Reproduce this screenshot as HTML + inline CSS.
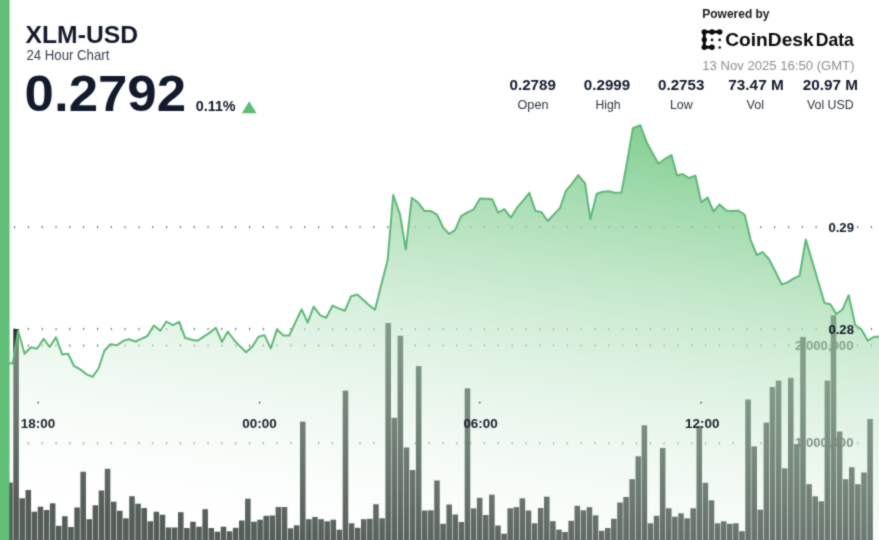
<!DOCTYPE html>
<html><head><meta charset="utf-8"><title>XLM-USD</title>
<style>
html,body{margin:0;padding:0;background:#fff;}
body{width:879px;height:540px;overflow:hidden;position:relative;font-family:"Liberation Sans",sans-serif;}
svg{position:absolute;left:-3px;top:-3px;display:block;will-change:transform;filter:url(#soft)}
text{font-family:"Liberation Sans",sans-serif;}
</style></head><body>
<svg width="885" height="546" viewBox="-3 -3 885 546">
<defs>
<filter id="soft" x="0" y="0" width="1" height="1" color-interpolation-filters="sRGB"><feConvolveMatrix order="3" kernelMatrix="1 2 1 2 12 2 1 2 1" divisor="24" edgeMode="duplicate" preserveAlpha="true"/></filter>
<linearGradient id="g" gradientUnits="userSpaceOnUse" x1="879" y1="154.5" x2="806" y2="619.2">
<stop offset="0" stop-color="#68c47a" stop-opacity="0.85"/>
<stop offset="0.5" stop-color="#bee5c6" stop-opacity="0.59"/>
<stop offset="1" stop-color="#ffffff" stop-opacity="0.2"/>
</linearGradient>
</defs>
<rect x="-3" y="-3" width="885" height="546" fill="#fff"/>
<!-- grid -->
<g fill="#747a75">
<rect x="14.0" y="226.0" width="1.1" height="2.3"/>
<rect x="27.8" y="226.0" width="1.1" height="2.3"/>
<rect x="41.7" y="226.0" width="1.1" height="2.3"/>
<rect x="55.5" y="226.0" width="1.1" height="2.3"/>
<rect x="69.3" y="226.0" width="1.1" height="2.3"/>
<rect x="83.1" y="226.0" width="1.1" height="2.3"/>
<rect x="97.0" y="226.0" width="1.1" height="2.3"/>
<rect x="110.8" y="226.0" width="1.1" height="2.3"/>
<rect x="124.6" y="226.0" width="1.1" height="2.3"/>
<rect x="138.4" y="226.0" width="1.1" height="2.3"/>
<rect x="152.2" y="226.0" width="1.1" height="2.3"/>
<rect x="166.0" y="226.0" width="1.1" height="2.3"/>
<rect x="179.9" y="226.0" width="1.1" height="2.3"/>
<rect x="193.7" y="226.0" width="1.1" height="2.3"/>
<rect x="207.5" y="226.0" width="1.1" height="2.3"/>
<rect x="221.3" y="226.0" width="1.1" height="2.3"/>
<rect x="235.1" y="226.0" width="1.1" height="2.3"/>
<rect x="249.0" y="226.0" width="1.1" height="2.3"/>
<rect x="262.8" y="226.0" width="1.1" height="2.3"/>
<rect x="276.6" y="226.0" width="1.1" height="2.3"/>
<rect x="290.4" y="226.0" width="1.1" height="2.3"/>
<rect x="304.2" y="226.0" width="1.1" height="2.3"/>
<rect x="318.1" y="226.0" width="1.1" height="2.3"/>
<rect x="331.9" y="226.0" width="1.1" height="2.3"/>
<rect x="345.7" y="226.0" width="1.1" height="2.3"/>
<rect x="359.5" y="226.0" width="1.1" height="2.3"/>
<rect x="373.3" y="226.0" width="1.1" height="2.3"/>
<rect x="387.2" y="226.0" width="1.1" height="2.3"/>
<rect x="401.0" y="226.0" width="1.1" height="2.3"/>
<rect x="414.8" y="226.0" width="1.1" height="2.3"/>
<rect x="428.6" y="226.0" width="1.1" height="2.3"/>
<rect x="442.4" y="226.0" width="1.1" height="2.3"/>
<rect x="456.3" y="226.0" width="1.1" height="2.3"/>
<rect x="470.1" y="226.0" width="1.1" height="2.3"/>
<rect x="483.9" y="226.0" width="1.1" height="2.3"/>
<rect x="497.7" y="226.0" width="1.1" height="2.3"/>
<rect x="511.5" y="226.0" width="1.1" height="2.3"/>
<rect x="525.4" y="226.0" width="1.1" height="2.3"/>
<rect x="539.2" y="226.0" width="1.1" height="2.3"/>
<rect x="553.0" y="226.0" width="1.1" height="2.3"/>
<rect x="566.8" y="226.0" width="1.1" height="2.3"/>
<rect x="580.7" y="226.0" width="1.1" height="2.3"/>
<rect x="594.5" y="226.0" width="1.1" height="2.3"/>
<rect x="608.3" y="226.0" width="1.1" height="2.3"/>
<rect x="622.1" y="226.0" width="1.1" height="2.3"/>
<rect x="635.9" y="226.0" width="1.1" height="2.3"/>
<rect x="649.8" y="226.0" width="1.1" height="2.3"/>
<rect x="663.6" y="226.0" width="1.1" height="2.3"/>
<rect x="677.4" y="226.0" width="1.1" height="2.3"/>
<rect x="691.2" y="226.0" width="1.1" height="2.3"/>
<rect x="705.0" y="226.0" width="1.1" height="2.3"/>
<rect x="718.9" y="226.0" width="1.1" height="2.3"/>
<rect x="732.7" y="226.0" width="1.1" height="2.3"/>
<rect x="746.5" y="226.0" width="1.1" height="2.3"/>
<rect x="760.3" y="226.0" width="1.1" height="2.3"/>
<rect x="774.1" y="226.0" width="1.1" height="2.3"/>
<rect x="788.0" y="226.0" width="1.1" height="2.3"/>
<rect x="801.8" y="226.0" width="1.1" height="2.3"/>
<rect x="815.6" y="226.0" width="1.1" height="2.3"/>
<rect x="829.4" y="226.0" width="1.1" height="2.3"/>
<rect x="843.2" y="226.0" width="1.1" height="2.3"/>
<rect x="857.1" y="226.0" width="1.1" height="2.3"/>
<rect x="870.9" y="226.0" width="1.1" height="2.3"/>
<rect x="14.0" y="327.9" width="1.1" height="2.3"/>
<rect x="27.8" y="327.9" width="1.1" height="2.3"/>
<rect x="41.7" y="327.9" width="1.1" height="2.3"/>
<rect x="55.5" y="327.9" width="1.1" height="2.3"/>
<rect x="69.3" y="327.9" width="1.1" height="2.3"/>
<rect x="83.1" y="327.9" width="1.1" height="2.3"/>
<rect x="97.0" y="327.9" width="1.1" height="2.3"/>
<rect x="110.8" y="327.9" width="1.1" height="2.3"/>
<rect x="124.6" y="327.9" width="1.1" height="2.3"/>
<rect x="138.4" y="327.9" width="1.1" height="2.3"/>
<rect x="152.2" y="327.9" width="1.1" height="2.3"/>
<rect x="166.0" y="327.9" width="1.1" height="2.3"/>
<rect x="179.9" y="327.9" width="1.1" height="2.3"/>
<rect x="193.7" y="327.9" width="1.1" height="2.3"/>
<rect x="207.5" y="327.9" width="1.1" height="2.3"/>
<rect x="221.3" y="327.9" width="1.1" height="2.3"/>
<rect x="235.1" y="327.9" width="1.1" height="2.3"/>
<rect x="249.0" y="327.9" width="1.1" height="2.3"/>
<rect x="262.8" y="327.9" width="1.1" height="2.3"/>
<rect x="276.6" y="327.9" width="1.1" height="2.3"/>
<rect x="290.4" y="327.9" width="1.1" height="2.3"/>
<rect x="304.2" y="327.9" width="1.1" height="2.3"/>
<rect x="318.1" y="327.9" width="1.1" height="2.3"/>
<rect x="331.9" y="327.9" width="1.1" height="2.3"/>
<rect x="345.7" y="327.9" width="1.1" height="2.3"/>
<rect x="359.5" y="327.9" width="1.1" height="2.3"/>
<rect x="373.3" y="327.9" width="1.1" height="2.3"/>
<rect x="387.2" y="327.9" width="1.1" height="2.3"/>
<rect x="401.0" y="327.9" width="1.1" height="2.3"/>
<rect x="414.8" y="327.9" width="1.1" height="2.3"/>
<rect x="428.6" y="327.9" width="1.1" height="2.3"/>
<rect x="442.4" y="327.9" width="1.1" height="2.3"/>
<rect x="456.3" y="327.9" width="1.1" height="2.3"/>
<rect x="470.1" y="327.9" width="1.1" height="2.3"/>
<rect x="483.9" y="327.9" width="1.1" height="2.3"/>
<rect x="497.7" y="327.9" width="1.1" height="2.3"/>
<rect x="511.5" y="327.9" width="1.1" height="2.3"/>
<rect x="525.4" y="327.9" width="1.1" height="2.3"/>
<rect x="539.2" y="327.9" width="1.1" height="2.3"/>
<rect x="553.0" y="327.9" width="1.1" height="2.3"/>
<rect x="566.8" y="327.9" width="1.1" height="2.3"/>
<rect x="580.7" y="327.9" width="1.1" height="2.3"/>
<rect x="594.5" y="327.9" width="1.1" height="2.3"/>
<rect x="608.3" y="327.9" width="1.1" height="2.3"/>
<rect x="622.1" y="327.9" width="1.1" height="2.3"/>
<rect x="635.9" y="327.9" width="1.1" height="2.3"/>
<rect x="649.8" y="327.9" width="1.1" height="2.3"/>
<rect x="663.6" y="327.9" width="1.1" height="2.3"/>
<rect x="677.4" y="327.9" width="1.1" height="2.3"/>
<rect x="691.2" y="327.9" width="1.1" height="2.3"/>
<rect x="705.0" y="327.9" width="1.1" height="2.3"/>
<rect x="718.9" y="327.9" width="1.1" height="2.3"/>
<rect x="732.7" y="327.9" width="1.1" height="2.3"/>
<rect x="746.5" y="327.9" width="1.1" height="2.3"/>
<rect x="760.3" y="327.9" width="1.1" height="2.3"/>
<rect x="774.1" y="327.9" width="1.1" height="2.3"/>
<rect x="788.0" y="327.9" width="1.1" height="2.3"/>
<rect x="801.8" y="327.9" width="1.1" height="2.3"/>
<rect x="815.6" y="327.9" width="1.1" height="2.3"/>
<rect x="829.4" y="327.9" width="1.1" height="2.3"/>
<rect x="843.2" y="327.9" width="1.1" height="2.3"/>
<rect x="857.1" y="327.9" width="1.1" height="2.3"/>
<rect x="870.9" y="327.9" width="1.1" height="2.3"/>
<rect x="14.0" y="344.4" width="1.1" height="2.3"/>
<rect x="27.8" y="344.4" width="1.1" height="2.3"/>
<rect x="41.7" y="344.4" width="1.1" height="2.3"/>
<rect x="55.5" y="344.4" width="1.1" height="2.3"/>
<rect x="69.3" y="344.4" width="1.1" height="2.3"/>
<rect x="83.1" y="344.4" width="1.1" height="2.3"/>
<rect x="97.0" y="344.4" width="1.1" height="2.3"/>
<rect x="110.8" y="344.4" width="1.1" height="2.3"/>
<rect x="124.6" y="344.4" width="1.1" height="2.3"/>
<rect x="138.4" y="344.4" width="1.1" height="2.3"/>
<rect x="152.2" y="344.4" width="1.1" height="2.3"/>
<rect x="166.0" y="344.4" width="1.1" height="2.3"/>
<rect x="179.9" y="344.4" width="1.1" height="2.3"/>
<rect x="193.7" y="344.4" width="1.1" height="2.3"/>
<rect x="207.5" y="344.4" width="1.1" height="2.3"/>
<rect x="221.3" y="344.4" width="1.1" height="2.3"/>
<rect x="235.1" y="344.4" width="1.1" height="2.3"/>
<rect x="249.0" y="344.4" width="1.1" height="2.3"/>
<rect x="262.8" y="344.4" width="1.1" height="2.3"/>
<rect x="276.6" y="344.4" width="1.1" height="2.3"/>
<rect x="290.4" y="344.4" width="1.1" height="2.3"/>
<rect x="304.2" y="344.4" width="1.1" height="2.3"/>
<rect x="318.1" y="344.4" width="1.1" height="2.3"/>
<rect x="331.9" y="344.4" width="1.1" height="2.3"/>
<rect x="345.7" y="344.4" width="1.1" height="2.3"/>
<rect x="359.5" y="344.4" width="1.1" height="2.3"/>
<rect x="373.3" y="344.4" width="1.1" height="2.3"/>
<rect x="387.2" y="344.4" width="1.1" height="2.3"/>
<rect x="401.0" y="344.4" width="1.1" height="2.3"/>
<rect x="414.8" y="344.4" width="1.1" height="2.3"/>
<rect x="428.6" y="344.4" width="1.1" height="2.3"/>
<rect x="442.4" y="344.4" width="1.1" height="2.3"/>
<rect x="456.3" y="344.4" width="1.1" height="2.3"/>
<rect x="470.1" y="344.4" width="1.1" height="2.3"/>
<rect x="483.9" y="344.4" width="1.1" height="2.3"/>
<rect x="497.7" y="344.4" width="1.1" height="2.3"/>
<rect x="511.5" y="344.4" width="1.1" height="2.3"/>
<rect x="525.4" y="344.4" width="1.1" height="2.3"/>
<rect x="539.2" y="344.4" width="1.1" height="2.3"/>
<rect x="553.0" y="344.4" width="1.1" height="2.3"/>
<rect x="566.8" y="344.4" width="1.1" height="2.3"/>
<rect x="580.7" y="344.4" width="1.1" height="2.3"/>
<rect x="594.5" y="344.4" width="1.1" height="2.3"/>
<rect x="608.3" y="344.4" width="1.1" height="2.3"/>
<rect x="622.1" y="344.4" width="1.1" height="2.3"/>
<rect x="635.9" y="344.4" width="1.1" height="2.3"/>
<rect x="649.8" y="344.4" width="1.1" height="2.3"/>
<rect x="663.6" y="344.4" width="1.1" height="2.3"/>
<rect x="677.4" y="344.4" width="1.1" height="2.3"/>
<rect x="691.2" y="344.4" width="1.1" height="2.3"/>
<rect x="705.0" y="344.4" width="1.1" height="2.3"/>
<rect x="718.9" y="344.4" width="1.1" height="2.3"/>
<rect x="732.7" y="344.4" width="1.1" height="2.3"/>
<rect x="746.5" y="344.4" width="1.1" height="2.3"/>
<rect x="760.3" y="344.4" width="1.1" height="2.3"/>
<rect x="774.1" y="344.4" width="1.1" height="2.3"/>
<rect x="788.0" y="344.4" width="1.1" height="2.3"/>
<rect x="801.8" y="344.4" width="1.1" height="2.3"/>
<rect x="815.6" y="344.4" width="1.1" height="2.3"/>
<rect x="829.4" y="344.4" width="1.1" height="2.3"/>
<rect x="843.2" y="344.4" width="1.1" height="2.3"/>
<rect x="857.1" y="344.4" width="1.1" height="2.3"/>
<rect x="870.9" y="344.4" width="1.1" height="2.3"/>
<rect x="14.0" y="442.1" width="1.1" height="2.3"/>
<rect x="27.8" y="442.1" width="1.1" height="2.3"/>
<rect x="41.7" y="442.1" width="1.1" height="2.3"/>
<rect x="55.5" y="442.1" width="1.1" height="2.3"/>
<rect x="69.3" y="442.1" width="1.1" height="2.3"/>
<rect x="83.1" y="442.1" width="1.1" height="2.3"/>
<rect x="97.0" y="442.1" width="1.1" height="2.3"/>
<rect x="110.8" y="442.1" width="1.1" height="2.3"/>
<rect x="124.6" y="442.1" width="1.1" height="2.3"/>
<rect x="138.4" y="442.1" width="1.1" height="2.3"/>
<rect x="152.2" y="442.1" width="1.1" height="2.3"/>
<rect x="166.0" y="442.1" width="1.1" height="2.3"/>
<rect x="179.9" y="442.1" width="1.1" height="2.3"/>
<rect x="193.7" y="442.1" width="1.1" height="2.3"/>
<rect x="207.5" y="442.1" width="1.1" height="2.3"/>
<rect x="221.3" y="442.1" width="1.1" height="2.3"/>
<rect x="235.1" y="442.1" width="1.1" height="2.3"/>
<rect x="249.0" y="442.1" width="1.1" height="2.3"/>
<rect x="262.8" y="442.1" width="1.1" height="2.3"/>
<rect x="276.6" y="442.1" width="1.1" height="2.3"/>
<rect x="290.4" y="442.1" width="1.1" height="2.3"/>
<rect x="304.2" y="442.1" width="1.1" height="2.3"/>
<rect x="318.1" y="442.1" width="1.1" height="2.3"/>
<rect x="331.9" y="442.1" width="1.1" height="2.3"/>
<rect x="345.7" y="442.1" width="1.1" height="2.3"/>
<rect x="359.5" y="442.1" width="1.1" height="2.3"/>
<rect x="373.3" y="442.1" width="1.1" height="2.3"/>
<rect x="387.2" y="442.1" width="1.1" height="2.3"/>
<rect x="401.0" y="442.1" width="1.1" height="2.3"/>
<rect x="414.8" y="442.1" width="1.1" height="2.3"/>
<rect x="428.6" y="442.1" width="1.1" height="2.3"/>
<rect x="442.4" y="442.1" width="1.1" height="2.3"/>
<rect x="456.3" y="442.1" width="1.1" height="2.3"/>
<rect x="470.1" y="442.1" width="1.1" height="2.3"/>
<rect x="483.9" y="442.1" width="1.1" height="2.3"/>
<rect x="497.7" y="442.1" width="1.1" height="2.3"/>
<rect x="511.5" y="442.1" width="1.1" height="2.3"/>
<rect x="525.4" y="442.1" width="1.1" height="2.3"/>
<rect x="539.2" y="442.1" width="1.1" height="2.3"/>
<rect x="553.0" y="442.1" width="1.1" height="2.3"/>
<rect x="566.8" y="442.1" width="1.1" height="2.3"/>
<rect x="580.7" y="442.1" width="1.1" height="2.3"/>
<rect x="594.5" y="442.1" width="1.1" height="2.3"/>
<rect x="608.3" y="442.1" width="1.1" height="2.3"/>
<rect x="622.1" y="442.1" width="1.1" height="2.3"/>
<rect x="635.9" y="442.1" width="1.1" height="2.3"/>
<rect x="649.8" y="442.1" width="1.1" height="2.3"/>
<rect x="663.6" y="442.1" width="1.1" height="2.3"/>
<rect x="677.4" y="442.1" width="1.1" height="2.3"/>
<rect x="691.2" y="442.1" width="1.1" height="2.3"/>
<rect x="705.0" y="442.1" width="1.1" height="2.3"/>
<rect x="718.9" y="442.1" width="1.1" height="2.3"/>
<rect x="732.7" y="442.1" width="1.1" height="2.3"/>
<rect x="746.5" y="442.1" width="1.1" height="2.3"/>
<rect x="760.3" y="442.1" width="1.1" height="2.3"/>
<rect x="774.1" y="442.1" width="1.1" height="2.3"/>
<rect x="788.0" y="442.1" width="1.1" height="2.3"/>
<rect x="801.8" y="442.1" width="1.1" height="2.3"/>
<rect x="815.6" y="442.1" width="1.1" height="2.3"/>
<rect x="829.4" y="442.1" width="1.1" height="2.3"/>
<rect x="843.2" y="442.1" width="1.1" height="2.3"/>
<rect x="857.1" y="442.1" width="1.1" height="2.3"/>
<rect x="870.9" y="442.1" width="1.1" height="2.3"/>
</g>
<!-- volume axis labels (under bars) -->
<g font-weight="700" font-size="13" fill="#3e3e3e" text-anchor="end">
<text x="853.5" y="350.4" textLength="58.5" lengthAdjust="spacingAndGlyphs">2,000,000</text>
<text x="853.5" y="447.3" textLength="58.5" lengthAdjust="spacingAndGlyphs">1,000,000</text>
</g>
<!-- bars -->
<g fill="#2a352e">
<rect x="7.20" y="482.5" width="5.55" height="61.5"/>
<rect x="13.30" y="329.0" width="5.55" height="215.0"/>
<rect x="19.40" y="498.3" width="5.55" height="45.7"/>
<rect x="25.50" y="490.0" width="5.55" height="54.0"/>
<rect x="31.60" y="511.7" width="5.55" height="32.3"/>
<rect x="37.70" y="506.7" width="5.55" height="37.3"/>
<rect x="43.80" y="510.0" width="5.55" height="34.0"/>
<rect x="49.90" y="503.3" width="5.55" height="40.7"/>
<rect x="56.00" y="525.8" width="5.55" height="18.2"/>
<rect x="62.10" y="516.2" width="5.55" height="27.8"/>
<rect x="68.20" y="527.0" width="5.55" height="17.0"/>
<rect x="74.30" y="507.5" width="5.55" height="36.5"/>
<rect x="80.40" y="471.7" width="5.55" height="72.3"/>
<rect x="86.50" y="519.2" width="5.55" height="24.8"/>
<rect x="92.60" y="505.3" width="5.55" height="38.7"/>
<rect x="98.70" y="490.5" width="5.55" height="53.5"/>
<rect x="104.80" y="468.8" width="5.55" height="75.2"/>
<rect x="110.90" y="501.7" width="5.55" height="42.3"/>
<rect x="117.00" y="510.8" width="5.55" height="33.2"/>
<rect x="123.10" y="518.3" width="5.55" height="25.7"/>
<rect x="129.20" y="496.2" width="5.55" height="47.8"/>
<rect x="135.30" y="503.7" width="5.55" height="40.3"/>
<rect x="141.40" y="508.0" width="5.55" height="36.0"/>
<rect x="147.50" y="521.3" width="5.55" height="22.7"/>
<rect x="153.60" y="511.7" width="5.55" height="32.3"/>
<rect x="159.70" y="514.7" width="5.55" height="29.3"/>
<rect x="165.80" y="527.5" width="5.55" height="16.5"/>
<rect x="171.90" y="527.5" width="5.55" height="16.5"/>
<rect x="178.00" y="512.2" width="5.55" height="31.8"/>
<rect x="184.10" y="528.0" width="5.55" height="16.0"/>
<rect x="190.20" y="521.7" width="5.55" height="22.3"/>
<rect x="196.30" y="526.7" width="5.55" height="17.3"/>
<rect x="202.40" y="509.2" width="5.55" height="34.8"/>
<rect x="208.50" y="528.0" width="5.55" height="16.0"/>
<rect x="214.60" y="531.7" width="5.55" height="12.3"/>
<rect x="220.70" y="526.7" width="5.55" height="17.3"/>
<rect x="226.80" y="531.3" width="5.55" height="12.7"/>
<rect x="232.90" y="527.8" width="5.55" height="16.2"/>
<rect x="239.00" y="520.5" width="5.55" height="23.5"/>
<rect x="245.10" y="498.7" width="5.55" height="45.3"/>
<rect x="251.20" y="521.7" width="5.55" height="22.3"/>
<rect x="257.30" y="519.7" width="5.55" height="24.3"/>
<rect x="263.40" y="515.8" width="5.55" height="28.2"/>
<rect x="269.50" y="515.5" width="5.55" height="28.5"/>
<rect x="275.60" y="507.0" width="5.55" height="37.0"/>
<rect x="281.70" y="507.0" width="5.55" height="37.0"/>
<rect x="287.80" y="528.3" width="5.55" height="15.7"/>
<rect x="293.90" y="525.3" width="5.55" height="18.7"/>
<rect x="300.00" y="421.7" width="5.55" height="122.3"/>
<rect x="306.10" y="519.2" width="5.55" height="24.8"/>
<rect x="312.20" y="517.0" width="5.55" height="27.0"/>
<rect x="318.30" y="519.2" width="5.55" height="24.8"/>
<rect x="324.40" y="521.3" width="5.55" height="22.7"/>
<rect x="330.50" y="519.7" width="5.55" height="24.3"/>
<rect x="336.60" y="529.7" width="5.55" height="14.3"/>
<rect x="342.70" y="390.6" width="5.55" height="153.4"/>
<rect x="348.80" y="523.3" width="5.55" height="20.7"/>
<rect x="354.90" y="527.8" width="5.55" height="16.2"/>
<rect x="361.00" y="519.2" width="5.55" height="24.8"/>
<rect x="367.10" y="518.8" width="5.55" height="25.2"/>
<rect x="373.20" y="504.2" width="5.55" height="39.8"/>
<rect x="379.30" y="518.3" width="5.55" height="25.7"/>
<rect x="385.40" y="323.0" width="5.55" height="221.0"/>
<rect x="391.50" y="417.8" width="5.55" height="126.2"/>
<rect x="397.60" y="335.8" width="5.55" height="208.2"/>
<rect x="403.70" y="447.5" width="5.55" height="96.5"/>
<rect x="409.80" y="470.0" width="5.55" height="74.0"/>
<rect x="415.90" y="366.1" width="5.55" height="177.9"/>
<rect x="422.00" y="510.5" width="5.55" height="33.5"/>
<rect x="428.10" y="510.3" width="5.55" height="33.7"/>
<rect x="434.20" y="480.5" width="5.55" height="63.5"/>
<rect x="440.30" y="523.8" width="5.55" height="20.2"/>
<rect x="446.40" y="504.5" width="5.55" height="39.5"/>
<rect x="452.50" y="514.5" width="5.55" height="29.5"/>
<rect x="458.60" y="522.0" width="5.55" height="22.0"/>
<rect x="464.70" y="388.3" width="5.55" height="155.7"/>
<rect x="470.80" y="508.3" width="5.55" height="35.7"/>
<rect x="476.90" y="497.8" width="5.55" height="46.2"/>
<rect x="483.00" y="515.0" width="5.55" height="29.0"/>
<rect x="489.10" y="494.7" width="5.55" height="49.3"/>
<rect x="495.20" y="525.5" width="5.55" height="18.5"/>
<rect x="501.30" y="533.7" width="5.55" height="10.3"/>
<rect x="507.40" y="508.3" width="5.55" height="35.7"/>
<rect x="513.50" y="507.2" width="5.55" height="36.8"/>
<rect x="519.60" y="498.3" width="5.55" height="45.7"/>
<rect x="525.70" y="510.5" width="5.55" height="33.5"/>
<rect x="531.80" y="523.3" width="5.55" height="20.7"/>
<rect x="537.90" y="508.0" width="5.55" height="36.0"/>
<rect x="544.00" y="496.7" width="5.55" height="47.3"/>
<rect x="550.10" y="521.2" width="5.55" height="22.8"/>
<rect x="556.20" y="529.7" width="5.55" height="14.3"/>
<rect x="562.30" y="532.0" width="5.55" height="12.0"/>
<rect x="568.40" y="520.8" width="5.55" height="23.2"/>
<rect x="574.50" y="505.8" width="5.55" height="38.2"/>
<rect x="580.60" y="510.3" width="5.55" height="33.7"/>
<rect x="586.70" y="507.2" width="5.55" height="36.8"/>
<rect x="592.80" y="515.3" width="5.55" height="28.7"/>
<rect x="598.90" y="530.8" width="5.55" height="13.2"/>
<rect x="605.00" y="528.0" width="5.55" height="16.0"/>
<rect x="611.10" y="518.8" width="5.55" height="25.2"/>
<rect x="617.20" y="502.5" width="5.55" height="41.5"/>
<rect x="623.30" y="497.0" width="5.55" height="47.0"/>
<rect x="629.40" y="479.2" width="5.55" height="64.8"/>
<rect x="635.50" y="456.3" width="5.55" height="87.7"/>
<rect x="641.60" y="425.3" width="5.55" height="118.7"/>
<rect x="647.70" y="523.3" width="5.55" height="20.7"/>
<rect x="653.80" y="515.8" width="5.55" height="28.2"/>
<rect x="659.90" y="448.0" width="5.55" height="96.0"/>
<rect x="666.00" y="508.3" width="5.55" height="35.7"/>
<rect x="672.10" y="516.7" width="5.55" height="27.3"/>
<rect x="678.20" y="513.3" width="5.55" height="30.7"/>
<rect x="684.30" y="518.3" width="5.55" height="25.7"/>
<rect x="690.40" y="508.3" width="5.55" height="35.7"/>
<rect x="696.50" y="426.0" width="5.55" height="118.0"/>
<rect x="702.60" y="482.8" width="5.55" height="61.2"/>
<rect x="708.70" y="500.3" width="5.55" height="43.7"/>
<rect x="714.80" y="523.3" width="5.55" height="20.7"/>
<rect x="720.90" y="521.3" width="5.55" height="22.7"/>
<rect x="727.00" y="523.8" width="5.55" height="20.2"/>
<rect x="733.10" y="523.3" width="5.55" height="20.7"/>
<rect x="739.20" y="531.2" width="5.55" height="12.8"/>
<rect x="745.30" y="399.5" width="5.55" height="144.5"/>
<rect x="751.40" y="446.4" width="5.55" height="97.6"/>
<rect x="757.50" y="509.7" width="5.55" height="34.3"/>
<rect x="763.60" y="422.6" width="5.55" height="121.4"/>
<rect x="769.70" y="387.0" width="5.55" height="157.0"/>
<rect x="775.80" y="380.6" width="5.55" height="163.4"/>
<rect x="781.90" y="468.3" width="5.55" height="75.7"/>
<rect x="788.00" y="377.8" width="5.55" height="166.2"/>
<rect x="794.10" y="444.0" width="5.55" height="100.0"/>
<rect x="800.20" y="337.0" width="5.55" height="207.0"/>
<rect x="806.30" y="484.2" width="5.55" height="59.8"/>
<rect x="812.40" y="496.3" width="5.55" height="47.7"/>
<rect x="818.50" y="501.3" width="5.55" height="42.7"/>
<rect x="824.60" y="380.6" width="5.55" height="163.4"/>
<rect x="830.70" y="315.3" width="5.55" height="228.7"/>
<rect x="836.80" y="431.5" width="5.55" height="112.5"/>
<rect x="842.90" y="479.2" width="5.55" height="64.8"/>
<rect x="849.00" y="467.2" width="5.55" height="76.8"/>
<rect x="855.10" y="484.2" width="5.55" height="59.8"/>
<rect x="861.20" y="472.5" width="5.55" height="71.5"/>
<rect x="867.30" y="419.0" width="5.55" height="125.0"/>
</g>
<!-- area -->
<path d="M10.0,363.3 L12.6,363.6 L18.1,330.7 L24.6,353.7 L30.8,347.3 L37.0,348.8 L43.7,338.9 L49.6,347.0 L56.0,337.4 L62.2,354.4 L68.1,353.7 L74.0,366.0 L80.0,369.2 L86.6,374.4 L92.5,376.9 L98.5,368.5 L104.4,350.7 L110.3,344.3 L117.0,345.2 L123.7,340.6 L128.9,339.2 L135.5,341.5 L140.7,339.2 L147.4,336.0 L153.8,325.5 L160.3,330.8 L166.3,321.5 L172.9,325.2 L179.2,321.9 L185.1,337.8 L191.5,339.7 L197.7,340.7 L203.7,336.7 L209.9,332.6 L215.9,327.8 L221.9,341.9 L227.8,331.5 L234.0,340.0 L240.2,346.6 L246.2,352.2 L252.3,346.6 L258.5,336.7 L264.4,335.1 L270.8,348.4 L277.0,329.6 L283.4,335.5 L289.3,335.5 L295.5,322.2 L301.7,309.3 L307.7,322.6 L313.7,306.7 L320.0,315.2 L326.2,317.8 L332.5,305.6 L338.5,308.4 L344.8,310.8 L351.0,296.3 L357.3,294.6 L363.4,299.9 L368.9,305.0 L375.0,309.7 L381.4,284.2 L387.6,260.3 L393.2,195.0 L400.0,214.4 L405.8,249.5 L411.8,197.8 L418.3,202.8 L424.5,210.9 L430.7,210.9 L437.1,214.8 L443.2,227.6 L449.2,234.0 L455.0,230.1 L461.1,216.2 L467.4,212.4 L473.7,209.3 L480.0,198.5 L486.0,198.7 L492.2,199.2 L498.1,212.6 L504.4,209.2 L510.8,217.7 L517.0,207.7 L523.2,200.7 L529.3,192.9 L535.5,211.1 L541.4,212.1 L547.7,221.0 L553.7,214.8 L560.0,208.1 L565.9,190.8 L572.1,183.7 L578.2,175.1 L585.1,183.4 L590.3,219.2 L596.7,193.8 L602.9,191.8 L608.6,191.3 L614.8,192.8 L621.5,192.5 L627.4,160.0 L632.9,128.1 L640.3,125.2 L646.6,142.2 L652.6,153.3 L658.5,163.7 L665.1,158.8 L671.4,155.1 L677.0,175.5 L682.6,174.0 L688.8,178.0 L695.4,175.7 L701.3,202.4 L707.5,197.5 L713.5,211.5 L719.6,204.4 L726.4,210.7 L732.2,211.0 L738.2,210.5 L744.6,214.6 L750.7,240.0 L756.8,255.2 L762.5,252.1 L769.1,259.2 L775.6,272.0 L781.7,284.4 L787.7,282.4 L793.4,278.7 L799.6,275.7 L805.8,239.5 L811.9,260.3 L818.2,281.5 L824.5,303.0 L830.4,304.2 L836.2,314.0 L842.5,309.5 L848.7,295.2 L855.2,325.0 L861.3,329.2 L867.9,340.7 L873.7,337.0 L879.0,336.4 L883,336.4 L883,544 L10,544 Z" fill="url(#g)"/>
<polyline points="10.0,363.3 12.6,363.6 18.1,330.7 24.6,353.7 30.8,347.3 37.0,348.8 43.7,338.9 49.6,347.0 56.0,337.4 62.2,354.4 68.1,353.7 74.0,366.0 80.0,369.2 86.6,374.4 92.5,376.9 98.5,368.5 104.4,350.7 110.3,344.3 117.0,345.2 123.7,340.6 128.9,339.2 135.5,341.5 140.7,339.2 147.4,336.0 153.8,325.5 160.3,330.8 166.3,321.5 172.9,325.2 179.2,321.9 185.1,337.8 191.5,339.7 197.7,340.7 203.7,336.7 209.9,332.6 215.9,327.8 221.9,341.9 227.8,331.5 234.0,340.0 240.2,346.6 246.2,352.2 252.3,346.6 258.5,336.7 264.4,335.1 270.8,348.4 277.0,329.6 283.4,335.5 289.3,335.5 295.5,322.2 301.7,309.3 307.7,322.6 313.7,306.7 320.0,315.2 326.2,317.8 332.5,305.6 338.5,308.4 344.8,310.8 351.0,296.3 357.3,294.6 363.4,299.9 368.9,305.0 375.0,309.7 381.4,284.2 387.6,260.3 393.2,195.0 400.0,214.4 405.8,249.5 411.8,197.8 418.3,202.8 424.5,210.9 430.7,210.9 437.1,214.8 443.2,227.6 449.2,234.0 455.0,230.1 461.1,216.2 467.4,212.4 473.7,209.3 480.0,198.5 486.0,198.7 492.2,199.2 498.1,212.6 504.4,209.2 510.8,217.7 517.0,207.7 523.2,200.7 529.3,192.9 535.5,211.1 541.4,212.1 547.7,221.0 553.7,214.8 560.0,208.1 565.9,190.8 572.1,183.7 578.2,175.1 585.1,183.4 590.3,219.2 596.7,193.8 602.9,191.8 608.6,191.3 614.8,192.8 621.5,192.5 627.4,160.0 632.9,128.1 640.3,125.2 646.6,142.2 652.6,153.3 658.5,163.7 665.1,158.8 671.4,155.1 677.0,175.5 682.6,174.0 688.8,178.0 695.4,175.7 701.3,202.4 707.5,197.5 713.5,211.5 719.6,204.4 726.4,210.7 732.2,211.0 738.2,210.5 744.6,214.6 750.7,240.0 756.8,255.2 762.5,252.1 769.1,259.2 775.6,272.0 781.7,284.4 787.7,282.4 793.4,278.7 799.6,275.7 805.8,239.5 811.9,260.3 818.2,281.5 824.5,303.0 830.4,304.2 836.2,314.0 842.5,309.5 848.7,295.2 855.2,325.0 861.3,329.2 867.9,340.7 873.7,337.0 879.0,336.4" fill="none" stroke="#5eb878" stroke-width="2" stroke-linejoin="round" stroke-linecap="round"/>
<!-- left stripe -->
<rect x="-3" y="-3" width="12.6" height="546" fill="#62bf77"/>
<!-- time labels -->
<g fill="#3a3e3a">
<rect x="37.6" y="401.8" width="1.3" height="1.6"/>
<rect x="258.9" y="401.8" width="1.3" height="1.6"/>
<rect x="479.1" y="401.8" width="1.3" height="1.6"/>
<rect x="700.5" y="401.8" width="1.3" height="1.6"/>
</g>
<g font-weight="700" font-size="13" fill="#1a2028" text-anchor="middle">
<text x="38" y="428.4" textLength="34.4" lengthAdjust="spacingAndGlyphs">18:00</text>
<text x="259.5" y="428.4" textLength="34.4" lengthAdjust="spacingAndGlyphs">00:00</text>
<text x="480.6" y="428.4" textLength="34.4" lengthAdjust="spacingAndGlyphs">06:00</text>
<text x="702.3" y="428.4" textLength="34.4" lengthAdjust="spacingAndGlyphs">12:00</text>
</g>
<!-- price labels -->
<g font-weight="700" font-size="13" fill="#121a2c" text-anchor="end">
<text x="854" y="231.9" textLength="25.6" lengthAdjust="spacingAndGlyphs">0.29</text>
<text x="854" y="333.9" textLength="25.6" lengthAdjust="spacingAndGlyphs">0.28</text>
</g>
<!-- header left -->
<text x="25.6" y="42.8" font-weight="700" font-size="23.5" fill="#121a2c" textLength="112.4" lengthAdjust="spacingAndGlyphs">XLM-USD</text>
<text x="26.4" y="59.5" font-size="14.3" fill="#3a4150" textLength="83" lengthAdjust="spacingAndGlyphs">24 Hour Chart</text>
<text x="24.6" y="111" font-weight="700" font-size="50.3" fill="#121a2c" textLength="161.5" lengthAdjust="spacingAndGlyphs">0.2792</text>
<text x="195.8" y="111" font-weight="700" font-size="14" fill="#121a2c" textLength="39.8" lengthAdjust="spacingAndGlyphs">0.11%</text>
<path d="M249.2,101.2 L256.6,113.2 L241.8,113.2 Z" fill="#5dbf75"/>
<!-- header right -->
<text x="702.3" y="18.3" font-weight="700" font-size="12.2" fill="#1a1a1a" textLength="67.2" lengthAdjust="spacingAndGlyphs">Powered by</text>
<g fill="#0a0a0a" stroke="#0a0a0a">
<path d="M719.7,31.9 L704.3,31.9 L704.3,47.2 L712,47.2" fill="none" stroke-width="2.9" stroke-linecap="round" stroke-linejoin="round"/>
<circle cx="704.3" cy="31.9" r="2.75" stroke="none"/><circle cx="712" cy="31.9" r="2.75" stroke="none"/><circle cx="719.7" cy="31.9" r="2.75" stroke="none"/>
<circle cx="704.3" cy="39.7" r="2.6" stroke="none"/><circle cx="704.3" cy="47.2" r="2.75" stroke="none"/><circle cx="712" cy="47.2" r="2.75" stroke="none"/>
<circle cx="712" cy="39.9" r="1.35" stroke="none"/><circle cx="719.7" cy="39.9" r="1.35" stroke="none"/><circle cx="719.7" cy="47.4" r="1.25" stroke="none"/>
</g>
<text x="725.2" y="46.2" font-weight="700" font-size="19" fill="#0a0a0a" textLength="88.5" lengthAdjust="spacingAndGlyphs">CoinDesk</text>
<text x="815.8" y="46.2" font-weight="700" font-size="19" fill="#0a0a0a" textLength="38" lengthAdjust="spacingAndGlyphs">Data</text>
<text x="702.3" y="69.9" font-size="13.4" fill="#8f8f8f" textLength="152.2" lengthAdjust="spacingAndGlyphs">13 Nov 2025 16:50 (GMT)</text>
<!-- stats -->
<g font-weight="700" font-size="14" fill="#121a2c" text-anchor="middle">
<text x="532.7" y="90.4" textLength="46.3" lengthAdjust="spacingAndGlyphs">0.2789</text>
<text x="607" y="90.4" textLength="46.3" lengthAdjust="spacingAndGlyphs">0.2999</text>
<text x="681.2" y="90.4" textLength="46.3" lengthAdjust="spacingAndGlyphs">0.2753</text>
<text x="756" y="90.4" textLength="55.3" lengthAdjust="spacingAndGlyphs">73.47 M</text>
<text x="830.3" y="90.4" textLength="55.3" lengthAdjust="spacingAndGlyphs">20.97 M</text>
</g>
<g font-size="13.2" fill="#2c3340" text-anchor="middle">
<text x="533" y="109.2" textLength="31" lengthAdjust="spacingAndGlyphs">Open</text>
<text x="608" y="109.2" textLength="25" lengthAdjust="spacingAndGlyphs">High</text>
<text x="681.3" y="109.2" textLength="22.8" lengthAdjust="spacingAndGlyphs">Low</text>
<text x="755.3" y="109.2" textLength="17.5" lengthAdjust="spacingAndGlyphs">Vol</text>
<text x="830.3" y="109.2" textLength="46.6" lengthAdjust="spacingAndGlyphs">Vol USD</text>
</g>
</svg>
</body></html>
